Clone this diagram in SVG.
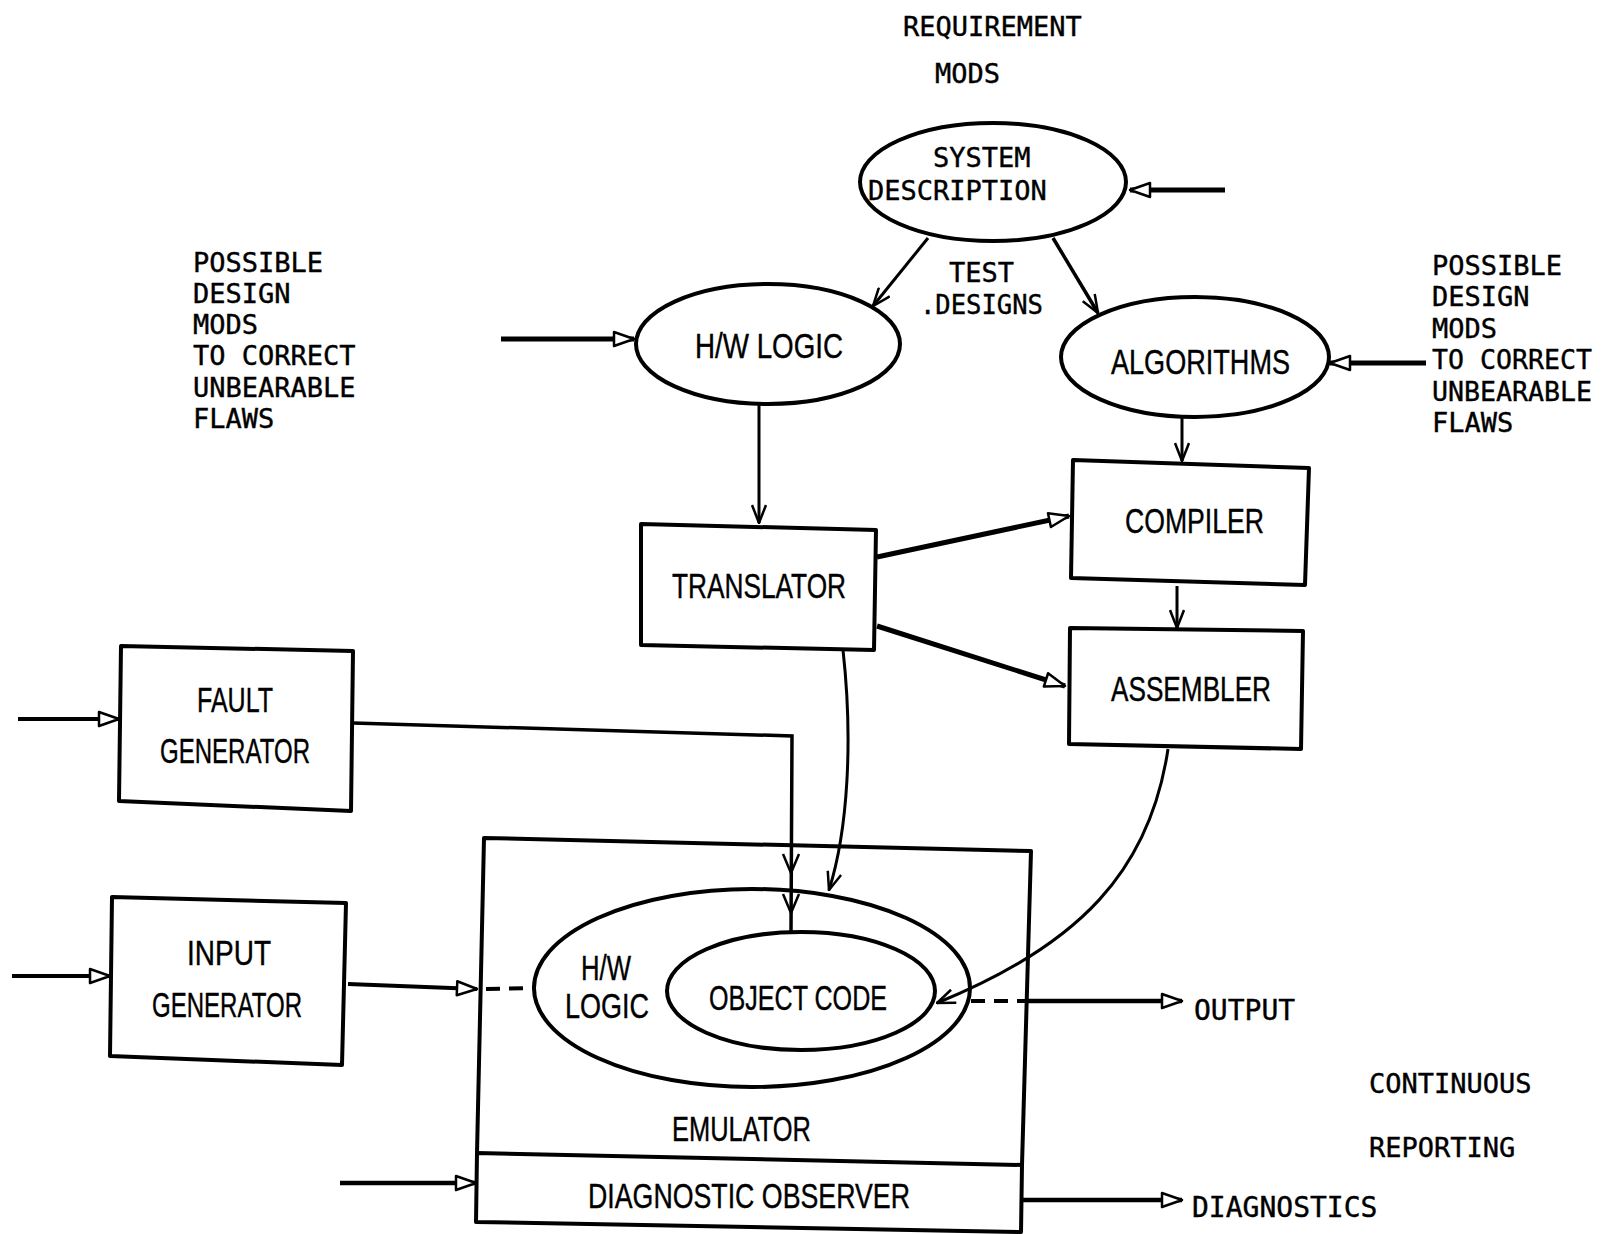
<svg xmlns="http://www.w3.org/2000/svg" width="1603" height="1234" viewBox="0 0 1603 1234">
<style>
.bg{fill:#ffffff}
.shape{fill:none;stroke:#000;stroke-width:4}
.box{fill:none;stroke:#000;stroke-width:4;stroke-linejoin:round}
.ln{fill:none;stroke:#000;stroke-width:3}
.thick{fill:none;stroke:#000;stroke-width:5}
.dash{fill:none;stroke:#000;stroke-width:4;stroke-dasharray:14 9}
.chv{fill:none;stroke:#000;stroke-width:2.5}
.mono{font-family:"DejaVu Sans Mono","Liberation Mono",monospace;font-size:27px;fill:#000;stroke:#000;stroke-width:0.4}
.sans{font-family:"Liberation Sans",Arial,sans-serif;font-size:35px;fill:#000;stroke:#000;stroke-width:0.4}
</style>
<defs>
<marker id="tri" viewBox="0 0 24 18" refX="22" refY="9" markerWidth="24" markerHeight="18" markerUnits="userSpaceOnUse" orient="auto">
<path d="M2,2 L22,9 L2,16 Z" fill="#fff" stroke="#000" stroke-width="2.5" stroke-linejoin="round"/>
</marker>
<marker id="chev" viewBox="0 0 20 16" refX="19" refY="8" markerWidth="20" markerHeight="16" markerUnits="userSpaceOnUse" orient="auto">
<path d="M1,1 L19,8 L1,15" fill="none" stroke="#000" stroke-width="2.5"/>
</marker>
</defs>
<rect class="bg" x="0" y="0" width="1603" height="1234"/>

<g id="labels">
<text class="mono" x="903" y="36">REQUIREMENT</text>
<text class="mono" x="935" y="83">MODS</text>
<text class="mono" x="949" y="282">TEST</text>
<text class="mono" x="920" y="314" textLength="123" lengthAdjust="spacingAndGlyphs">.DESIGNS</text>
<text class="mono" x="193" y="272">POSSIBLE</text>
<text class="mono" x="193" y="303">DESIGN</text>
<text class="mono" x="193" y="334">MODS</text>
<text class="mono" x="193" y="365">TO CORRECT</text>
<text class="mono" x="193" y="397">UNBEARABLE</text>
<text class="mono" x="193" y="428">FLAWS</text>
<text class="mono" x="1432" y="275">POSSIBLE</text>
<text class="mono" x="1432" y="306">DESIGN</text>
<text class="mono" x="1432" y="338">MODS</text>
<text class="mono" x="1432" y="369" textLength="160" lengthAdjust="spacingAndGlyphs">TO CORRECT</text>
<text class="mono" x="1432" y="401" textLength="160" lengthAdjust="spacingAndGlyphs">UNBEARABLE</text>
<text class="mono" x="1432" y="432">FLAWS</text>
<text class="mono" x="1369" y="1093">CONTINUOUS</text>
<text class="mono" x="1369" y="1157">REPORTING</text>
</g>

<g id="system-description">
<ellipse class="shape" cx="993" cy="182" rx="133" ry="59"/>
<text class="mono" x="933" y="167">SYSTEM</text>
<text class="mono" x="868" y="200">DESCRIPTION</text>
</g>

<g id="hw-logic">
<ellipse class="shape" cx="768" cy="344" rx="132" ry="60"/>
<text class="sans" x="695" y="358" textLength="148" lengthAdjust="spacingAndGlyphs">H/W LOGIC</text>
</g>

<g id="algorithms">
<ellipse class="shape" cx="1195" cy="357" rx="134" ry="60"/>
<text class="sans" x="1111" y="374" textLength="179" lengthAdjust="spacingAndGlyphs">ALGORITHMS</text>
</g>

<g id="translator">
<path class="box" d="M641,524 L876,530 L874,650 L641,645 Z"/>
<text class="sans" x="672" y="598" textLength="174" lengthAdjust="spacingAndGlyphs">TRANSLATOR</text>
</g>

<g id="compiler">
<path class="box" d="M1073,460 L1309,468 L1305,585 L1071,578 Z"/>
<text class="sans" x="1125" y="533" textLength="139" lengthAdjust="spacingAndGlyphs">COMPILER</text>
</g>

<g id="assembler">
<path class="box" d="M1070,628 L1303,631 L1301,749 L1069,744 Z"/>
<text class="sans" x="1111" y="701" textLength="160" lengthAdjust="spacingAndGlyphs">ASSEMBLER</text>
</g>

<g id="fault-generator">
<path class="box" d="M121,646 L353,651 L351,811 L119,801 Z"/>
<text class="sans" x="197" y="712" textLength="76" lengthAdjust="spacingAndGlyphs">FAULT</text>
<text class="sans" x="160" y="763" textLength="150" lengthAdjust="spacingAndGlyphs">GENERATOR</text>
</g>

<g id="input-generator">
<path class="box" d="M112,897 L346,903 L342,1065 L110,1056 Z"/>
<text class="sans" x="187" y="965" textLength="84" lengthAdjust="spacingAndGlyphs">INPUT</text>
<text class="sans" x="152" y="1017" textLength="150" lengthAdjust="spacingAndGlyphs">GENERATOR</text>
</g>

<g id="emulator">
<path class="box" d="M477,1153 L484,838 L1031,851 L1022,1165"/>
<ellipse class="shape" cx="752" cy="988" rx="218" ry="99"/>
<text class="sans" x="581" y="980" textLength="50" lengthAdjust="spacingAndGlyphs">H/W</text>
<text class="sans" x="565" y="1018" textLength="84" lengthAdjust="spacingAndGlyphs">LOGIC</text>
<text class="sans" x="672" y="1141" textLength="139" lengthAdjust="spacingAndGlyphs">EMULATOR</text>
</g>

<g id="object-code">
<ellipse class="shape" cx="801" cy="991" rx="134" ry="59"/>
<text class="sans" x="709" y="1010" textLength="178" lengthAdjust="spacingAndGlyphs">OBJECT CODE</text>
</g>

<g id="diagnostic-observer">
<path class="box" d="M477,1153 L1022,1165 L1021,1232 L476,1222 Z"/>
<text class="sans" x="588" y="1208" textLength="322" lengthAdjust="spacingAndGlyphs">DIAGNOSTIC OBSERVER</text>
</g>

<g id="outputs">
<text class="mono" x="1194" y="1020" style="font-size:28px">OUTPUT</text>
<text class="mono" x="1192" y="1217" style="font-size:28px">DIAGNOSTICS</text>
</g>

<g id="connectors">
<line class="thick" x1="1225" y1="190" x2="1130" y2="190" marker-end="url(#tri)"/>
<line class="ln" x1="928" y1="238" x2="873" y2="306" marker-end="url(#chev)"/>
<line class="ln" x1="1053" y1="238" x2="1098" y2="313" marker-end="url(#chev)" style="stroke-width:3.5"/>
<line class="thick" x1="501" y1="339" x2="634" y2="339" marker-end="url(#tri)"/>
<line class="thick" x1="1426" y1="363" x2="1330" y2="363" marker-end="url(#tri)"/>
<line class="ln" x1="759" y1="405" x2="759" y2="523" marker-end="url(#chev)"/>
<line class="ln" x1="1182" y1="418" x2="1182" y2="461" marker-end="url(#chev)"/>
<line class="ln" x1="1177" y1="586" x2="1177" y2="628" marker-end="url(#chev)"/>
<line class="thick" x1="877" y1="557" x2="1069" y2="516" marker-end="url(#tri)"/>
<line class="thick" x1="877" y1="626" x2="1065" y2="686" marker-end="url(#tri)"/>
<line class="box" x1="18" y1="719" x2="119" y2="719" marker-end="url(#tri)"/>
<path class="ln" d="M353,723 L792,736 L791,932" style="stroke-width:3.5"/>
<polyline class="chv" points="783,854 791,873 799,854"/>
<polyline class="chv" points="783,894 791,913 799,894"/>
<path class="ln" d="M843,650 C853,740 848,830 829,890" marker-end="url(#chev)"/>
<path class="ln" d="M1168,749 C1150,870 1080,945 937,1003" marker-end="url(#chev)"/>
<line class="box" x1="12" y1="976" x2="110" y2="976" marker-end="url(#tri)"/>
<line class="box" x1="348" y1="984" x2="477" y2="989" marker-end="url(#tri)"/>
<line class="dash" x1="486" y1="989" x2="534" y2="988"/>
<line class="dash" x1="971" y1="1001" x2="1027" y2="1001"/>
<line class="box" x1="1027" y1="1001" x2="1182" y2="1001" marker-end="url(#tri)" style="stroke-width:4.5"/>
<line class="box" x1="1022" y1="1200" x2="1182" y2="1200" marker-end="url(#tri)" style="stroke-width:4.5"/>
<line class="box" x1="340" y1="1183" x2="476" y2="1183" marker-end="url(#tri)" style="stroke-width:4.5"/>
</g>
</svg>
